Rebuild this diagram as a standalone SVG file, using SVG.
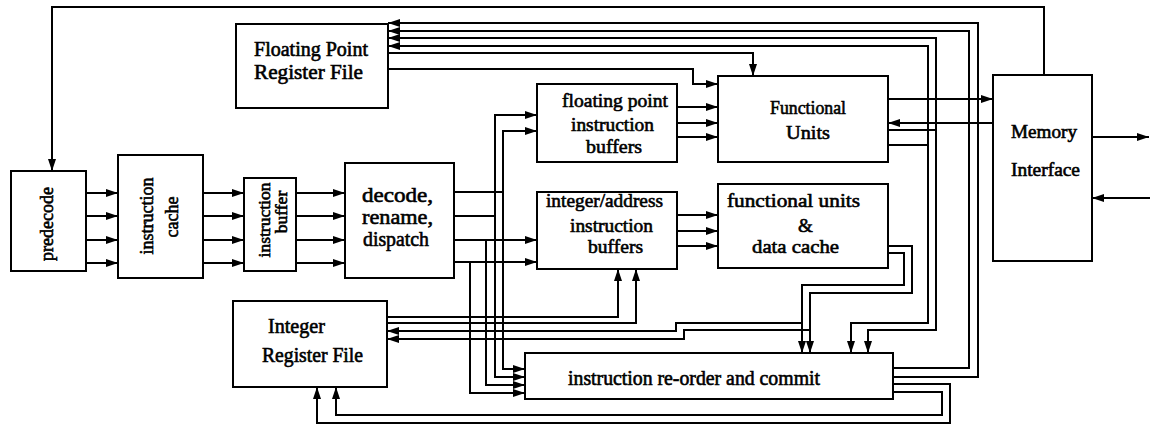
<svg xmlns="http://www.w3.org/2000/svg" width="1150" height="425" viewBox="0 0 1150 425">
  <style>
    .box { fill: #fff; stroke: #000; stroke-width: 2; }
    .wire { fill: none; stroke: #000; stroke-width: 2; }
    .arr { marker-end: url(#ah); }
    text { font-family: "Liberation Serif", "Times New Roman", serif; fill: #000; stroke: #000; stroke-width: 0.6; }
  </style>
  <defs>
    <marker id="ah" markerWidth="12" markerHeight="8" refX="12" refY="4" orient="auto" markerUnits="userSpaceOnUse">
      <path d="M0,0 L12,4 L0,8 z" fill="#000"/>
    </marker>
  </defs>
  <rect width="1150" height="425" fill="#fff"/>

  <!-- blocks -->
  <g id="fp-regfile">
    <rect class="box" x="236" y="24" width="152" height="84"/>
    <text x="254" y="56" font-size="20" textLength="114" lengthAdjust="spacingAndGlyphs">Floating Point</text>
    <text x="254" y="79" font-size="20" textLength="109" lengthAdjust="spacingAndGlyphs">Register File</text>
  </g>
  <g id="predecode">
    <rect class="box" x="11" y="171" width="75" height="100"/>
    <text transform="translate(53,224) rotate(-90)" text-anchor="middle" font-size="18">predecode</text>
  </g>
  <g id="icache">
    <rect class="box" x="118" y="155" width="85" height="123"/>
    <text transform="translate(153,216) rotate(-90)" text-anchor="middle" font-size="18">instruction</text>
    <text transform="translate(178,217) rotate(-90)" text-anchor="middle" font-size="18">cache</text>
  </g>
  <g id="ibuffer">
    <rect class="box" x="244" y="178" width="52" height="93"/>
    <text transform="translate(270,220) rotate(-90)" text-anchor="middle" font-size="17.5">instruction</text>
    <text transform="translate(287,212) rotate(-90)" text-anchor="middle" font-size="17.5">buffer</text>
  </g>
  <g id="decode">
    <rect class="box" x="345" y="163" width="109" height="115"/>
    <text x="362" y="202" font-size="21" textLength="71" lengthAdjust="spacingAndGlyphs">decode,</text>
    <text x="362" y="224" font-size="21" textLength="71" lengthAdjust="spacingAndGlyphs">rename,</text>
    <text x="363" y="246" font-size="21" textLength="66" lengthAdjust="spacingAndGlyphs">dispatch</text>
  </g>
  <g id="fp-ibuf">
    <rect class="box" x="537" y="84" width="140" height="78"/>
    <text x="562" y="107" font-size="19" textLength="106" lengthAdjust="spacingAndGlyphs">floating point</text>
    <text x="571" y="131" font-size="19" textLength="83" lengthAdjust="spacingAndGlyphs">instruction</text>
    <text x="586" y="153" font-size="19" textLength="56" lengthAdjust="spacingAndGlyphs">buffers</text>
  </g>
  <g id="fu">
    <rect class="box" x="718" y="76" width="170" height="86"/>
    <text x="770" y="114" font-size="19" textLength="76" lengthAdjust="spacingAndGlyphs">Functional</text>
    <text x="786" y="139" font-size="19" textLength="44" lengthAdjust="spacingAndGlyphs">Units</text>
  </g>
  <g id="int-ibuf">
    <rect class="box" x="537" y="192" width="140" height="77"/>
    <text x="546" y="207" font-size="19" textLength="117" lengthAdjust="spacingAndGlyphs">integer/address</text>
    <text x="570" y="232" font-size="19" textLength="83" lengthAdjust="spacingAndGlyphs">instruction</text>
    <text x="588" y="253" font-size="19" textLength="55" lengthAdjust="spacingAndGlyphs">buffers</text>
  </g>
  <g id="fu-dcache">
    <rect class="box" x="718" y="184" width="170" height="84"/>
    <text x="727" y="207" font-size="19" textLength="133" lengthAdjust="spacingAndGlyphs">functional units</text>
    <text x="798" y="232" font-size="19">&amp;</text>
    <text x="752" y="253" font-size="19" textLength="87" lengthAdjust="spacingAndGlyphs">data  cache</text>
  </g>
  <g id="memory">
    <rect class="box" x="993" y="75" width="99" height="186"/>
    <text x="1011" y="138" font-size="19" textLength="66" lengthAdjust="spacingAndGlyphs">Memory</text>
    <text x="1011" y="176" font-size="19" textLength="69" lengthAdjust="spacingAndGlyphs">Interface</text>
  </g>
  <g id="int-regfile">
    <rect class="box" x="233" y="301" width="154" height="86"/>
    <text x="268" y="333" font-size="20" textLength="57" lengthAdjust="spacingAndGlyphs">Integer</text>
    <text x="262" y="362" font-size="20" textLength="101" lengthAdjust="spacingAndGlyphs">Register File</text>
  </g>
  <g id="reorder">
    <rect class="box" x="525" y="353" width="368" height="46"/>
    <text x="568" y="385" font-size="20" textLength="252" lengthAdjust="spacingAndGlyphs">instruction re-order and commit</text>
  </g>

  <!-- connectors -->
  <g id="connectors">
    <!-- memory interface back to predecode -->
    <path class="wire arr" d="M1044,75 V7 H52 V171"/>

    <!-- fetch pipeline, four lanes -->
    <path class="wire arr" d="M86,193 H118"/>
    <path class="wire arr" d="M86,216 H118"/>
    <path class="wire arr" d="M86,240 H118"/>
    <path class="wire arr" d="M86,263 H118"/>
    <path class="wire arr" d="M203,193 H244"/>
    <path class="wire arr" d="M203,216 H244"/>
    <path class="wire arr" d="M203,240 H244"/>
    <path class="wire arr" d="M203,263 H244"/>
    <path class="wire arr" d="M296,193 H345"/>
    <path class="wire arr" d="M296,216 H345"/>
    <path class="wire arr" d="M296,240 H345"/>
    <path class="wire arr" d="M296,263 H345"/>

    <!-- dispatch to buffers and re-order -->
    <path class="wire" d="M454,192 H503"/>
    <path class="wire arr" d="M503,192 V131 H537"/>
    <path class="wire arr" d="M503,192 V369 H525"/>
    <path class="wire" d="M454,216 H495"/>
    <path class="wire arr" d="M495,216 V115 H537"/>
    <path class="wire arr" d="M495,216 V377 H525"/>
    <path class="wire arr" d="M454,240 H537"/>
    <path class="wire arr" d="M486,240 V385 H525"/>
    <path class="wire arr" d="M454,262 H537"/>
    <path class="wire arr" d="M470,262 V393 H525"/>

    <!-- FP register file operands -->
    <path class="wire arr" d="M388,53 H753 V76"/>
    <path class="wire arr" d="M388,69 H693 V84 H718"/>

    <!-- buffers to units -->
    <path class="wire arr" d="M677,107 H718"/>
    <path class="wire arr" d="M677,123 H718"/>
    <path class="wire arr" d="M677,137 H718"/>
    <path class="wire arr" d="M677,215 H718"/>
    <path class="wire arr" d="M677,231 H718"/>
    <path class="wire arr" d="M677,246 H718"/>

    <!-- functional units and memory -->
    <path class="wire arr" d="M888,99 H993"/>
    <path class="wire arr" d="M993,123 H888"/>
    <path class="wire arr" d="M1092,137 H1149"/>
    <path class="wire arr" d="M1150,198 H1092"/>

    <!-- FP results: to FP register file and to re-order -->
    <path class="wire" d="M888,130 H936"/>
    <path class="wire arr" d="M936,130 V38 H388"/>
    <path class="wire arr" d="M936,130 V330 H868 V353"/>
    <path class="wire" d="M888,145 H928"/>
    <path class="wire arr" d="M928,145 V46 H388"/>
    <path class="wire arr" d="M928,145 V323 H851 V353"/>

    <!-- commit back to register files -->
    <path class="wire arr" d="M893,368 H969 V31 H388"/>
    <path class="wire arr" d="M893,377 H978 V23 H388"/>
    <path class="wire arr" d="M893,384 H950 V423 H317 V387"/>
    <path class="wire arr" d="M893,392 H942 V415 H336 V387"/>

    <!-- integer results: to re-order and to integer register file -->
    <path class="wire arr" d="M888,246 H912 V293 H810 V353"/>
    <path class="wire arr" d="M888,253 H904 V285 H802 V353"/>
    <path class="wire arr" d="M802,323 H676 V331 H387"/>
    <path class="wire arr" d="M810,330 H684 V339 H387"/>

    <!-- integer register file operands -->
    <path class="wire arr" d="M387,317 H618 V269"/>
    <path class="wire arr" d="M387,323 H636 V269"/>
  </g>
</svg>
